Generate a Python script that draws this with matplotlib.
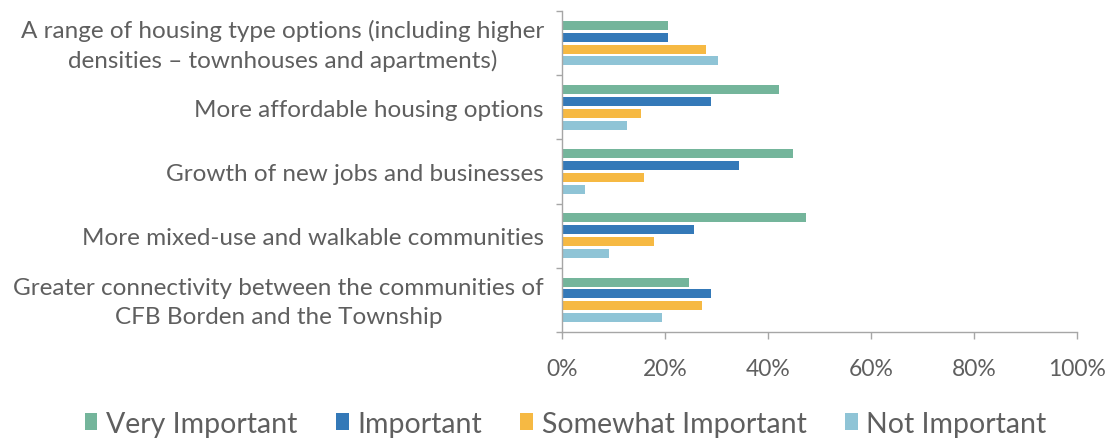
import numpy as np
import matplotlib.pyplot as plt
from matplotlib.transforms import ScaledTranslation

# survey responses, share of respondents per priority
categories = [
    "A range of housing type options (including higher\ndensities \u2013 townhouses and apartments)",
    "More affordable housing options",
    "Growth of new jobs and businesses",
    "More mixed-use and walkable communities",
    "Greater connectivity between the communities of\nCFB Borden and the Township",
]
series_names = ["Very Important", "Important", "Somewhat Important", "Not Important"]
very_important = [0.206, 0.422, 0.448, 0.473, 0.247]
important = [0.206, 0.290, 0.344, 0.256, 0.290]
somewhat_important = [0.279, 0.153, 0.160, 0.179, 0.272]
not_important = [0.303, 0.127, 0.045, 0.092, 0.194]
x_ticks = [0, 0.2, 0.4, 0.6, 0.8, 1.0]
x_tick_labels = ["0%", "20%", "40%", "60%", "80%", "100%"]

colors = ["#74b59b", "#3479b8", "#f6b943", "#8fc4d6"]
text_gray = "#5f5f5f"
axis_gray = "#a6a6a6"

plt.rcParams['font.family'] = ['Lato', 'DejaVu Sans']

fig = plt.figure(figsize=(11.09, 4.39), dpi=100)
ax = fig.add_axes([0.5068, 0.2415, 0.4644, 0.731])

y = np.arange(len(categories))
step = 0.185
bar_h = 0.14
values = [very_important, important, somewhat_important, not_important]
for k, (name, vals, c) in enumerate(zip(series_names, values, colors)):
    ax.barh(y + (k - 1.5) * step, vals, height=bar_h, color=c, label=name)

ax.set_xlim(0, 1.0)
ax.set_ylim(len(categories) - 0.5, -0.5)

# category labels sit between boundary ticks
ax.set_yticks(np.arange(len(categories) + 1) - 0.5)
ax.set_yticklabels([])
ax.set_yticks(y, minor=True)
ax.set_yticklabels(categories, minor=True, fontsize=17.5, color=text_gray,
                   multialignment='center', linespacing=1.45)
ax.tick_params(axis='y', which='minor', length=0, pad=13)
ax.tick_params(axis='y', which='major', length=4, color=axis_gray, width=1)
# two-line labels sit a touch low, nudge them up
nudge = ScaledTranslation(0, 4 / 100, fig.dpi_scale_trans)
for lab in ax.get_yticklabels(minor=True):
    if "\n" in lab.get_text():
        lab.set_transform(lab.get_transform() + nudge)

ax.set_xticks(x_ticks)
ax.set_xticklabels(x_tick_labels, fontsize=16.5, color=text_gray)
ax.tick_params(axis='x', length=5, color=axis_gray, width=1, pad=14)

for side in ['top', 'right']:
    ax.spines[side].set_visible(False)
for side in ['left', 'bottom']:
    ax.spines[side].set_color(axis_gray)
    ax.spines[side].set_linewidth(1)

leg = fig.legend(loc='lower center', bbox_to_anchor=(0.51, -0.055), ncol=4,
                 frameon=False, fontsize=20.5, handlelength=0.45, handleheight=0.55,
                 handletextpad=0.3, columnspacing=1.35)
for t in leg.get_texts():
    t.set_color(text_gray)

fig.savefig("out.png", dpi=100)
